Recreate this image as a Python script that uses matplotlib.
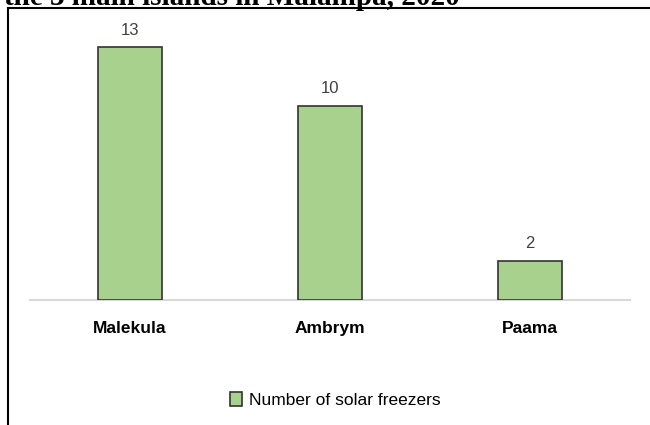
import matplotlib.pyplot as plt
from matplotlib.lines import Line2D

islands = ['Malekula', 'Ambrym', 'Paama']
freezers = [13, 10, 2]
series_name = 'Number of solar freezers'
title_text = 'the 3 main islands in Malampa, 2020'

W, H = 650, 425
fig = plt.figure(figsize=(W / 100, H / 100), dpi=100)

# title line of the page, cut off at the top like in the source
fig.text(4 / W, 1 - 5 / H, title_text, fontsize=21, fontweight='bold',
         family='Liberation Serif', va='baseline', ha='left')

# frame around the chart (top and left edges only are visible)
fig.add_artist(Line2D([8 / W, 1], [1 - 8 / H, 1 - 8 / H], color='black', lw=1.5))
fig.add_artist(Line2D([8 / W, 8 / W], [0, 1 - 8 / H], color='black', lw=1.5))

# axes placed in pixels: baseline at y=300, x from 30 to 630
ax = fig.add_axes([30 / W, 1 - 300 / H, 600 / W, 272 / H])
x = range(len(islands))
bars = ax.bar(x, freezers, width=0.32, color='#a9d18e', edgecolor='#333333',
              linewidth=1.2, label=series_name, zorder=3)
for xi, v in zip(x, freezers):
    ax.text(xi, v + 0.5, str(v), ha='center', va='bottom', fontsize=12,
            color='#404040', family='Liberation Sans')

ax.set_xlim(-0.5, 2.5)
ax.set_ylim(0, 14)
for s in ['top', 'right', 'left']:
    ax.spines[s].set_visible(False)
ax.spines['bottom'].set_color('#d9d9d9')
ax.spines['bottom'].set_linewidth(1.5)
ax.set_yticks([])
ax.set_xticks(list(x))
ax.set_xticklabels(islands, fontsize=12.5, fontweight='bold', family='Liberation Sans')
ax.tick_params(axis='x', length=0, pad=15)

leg = fig.legend(handles=[bars], labels=[series_name], loc='center',
                 bbox_to_anchor=(335 / W, 1 - 400 / H), frameon=False,
                 handlelength=0.7, handleheight=0.9, handletextpad=0.4,
                 prop={'size': 12.5, 'family': 'Liberation Sans'})

fig.savefig('out.png', dpi=100)
